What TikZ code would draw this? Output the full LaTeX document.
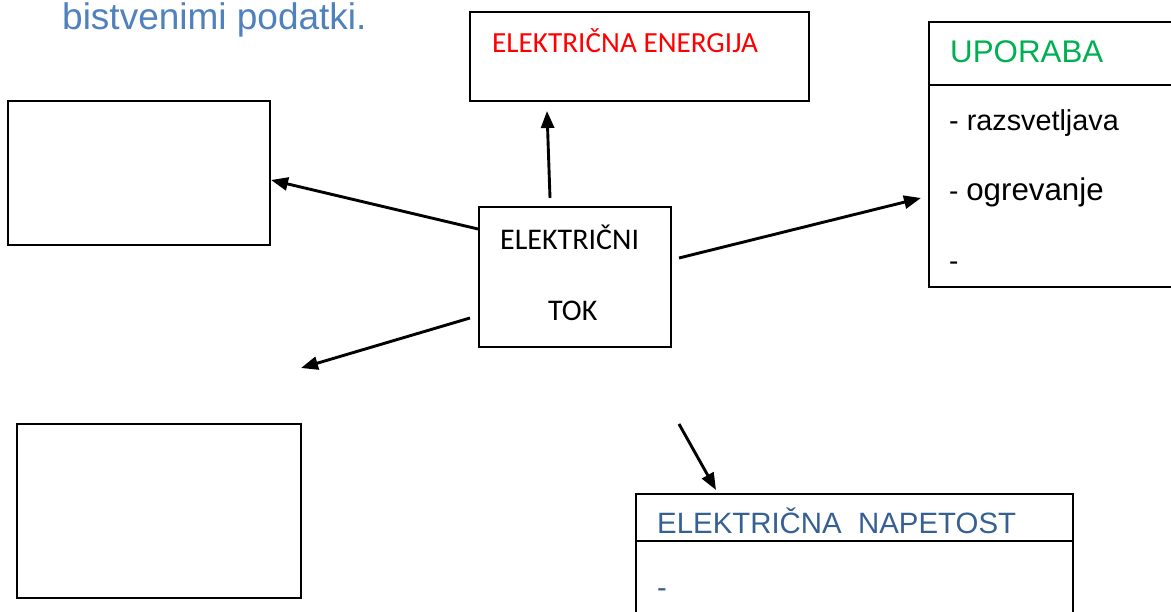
\documentclass[tikz,border=0pt]{standalone}
\usepackage{fontspec}
\setmainfont{Liberation Sans}
\newfontfamily\calib{Carlito}
\usetikzlibrary{arrows.meta}
\definecolor{titleblue}{RGB}{79,129,189}
\definecolor{napblue}{RGB}{54,96,146}
\definecolor{usegreen}{RGB}{0,176,80}
\definecolor{enred}{RGB}{255,0,0}
\tikzset{
  box/.style={draw=black, line width=2pt, inner sep=0pt, fill=none},
  txt/.style={inner sep=0pt, anchor=base west},
  conn/.style={line width=2.9pt, -{Triangle[length=17pt,width=13pt]}},
}
\begin{document}
\begin{tikzpicture}[x=1pt,y=-1pt]
\useasboundingbox (0,0) rectangle (1171,611);
\clip (0,0) rectangle (1171,611);
% boxes
\node[box, minimum width=262pt, minimum height=144pt] (tl) at (139,173) {};
\node[box, minimum width=339pt, minimum height=89pt] (en) at (639.5,56.5) {};
\node[box, minimum width=192pt, minimum height=140pt] (tok) at (575,277) {};
\node[box, minimum width=260pt, minimum height=265pt] (up) at (1059,154.5) {};
\draw[line width=2pt] (up.west |- 0,85) -- (up.east |- 0,85);
\node[box, minimum width=284pt, minimum height=174pt] (bl) at (159,511) {};
\node[box, minimum width=437pt, minimum height=140pt] (nap) at (854.5,564) {};
\draw[line width=2pt] (nap.west |- 0,541) -- (nap.east |- 0,541);
% texts
\node[txt, text=titleblue, font=\fontsize{37}{40}\selectfont] (title) at (62,29) {bistvenimi podatki.};
\node[txt, text=enred, font=\calib\fontsize{29.2}{34}\selectfont] (entxt) at (492,52) {ELEKTRIČNA ENERGIJA};
\node[txt, font=\calib\fontsize{30}{36}\selectfont] (tok1) at (500,249) {ELEKTRIČNI};
\node[txt, font=\calib\fontsize{30}{36}\selectfont] (tok2) at (548,320) {TOK};
\node[txt, text=usegreen, font=\fontsize{31.3}{36}\selectfont] (uptxt) at (950,62) {UPORABA};
\node[txt, font=\fontsize{28.8}{34}\selectfont] (up1) at (949,130) {- razsvetljava};
\node[txt] (up2) at (949,200) {\fontsize{28}{34}\selectfont - \fontsize{31.3}{36}\selectfont ogrevanje};
\node[txt, font=\fontsize{28}{34}\selectfont] (up3) at (949,270) {-};
\node[txt, text=napblue, font=\fontsize{29.4}{34}\selectfont] (naptxt) at (657,533) {ELEKTRIČNA~~NAPETOST};
\node[txt, text=napblue, font=\fontsize{29}{34}\selectfont] (nap1) at (657,597) {-};
% connector end points
\coordinate (a1s) at (550,198);
\coordinate (a1e) at (547,111);
\coordinate (a2s) at (478,229);
\coordinate (a2e) at (271,180);
\coordinate (a3s) at (470,318);
\coordinate (a3e) at (301,368);
\coordinate (a4s) at (679,258);
\coordinate (a4e) at (921,198);
\coordinate (a5s) at (679,424);
\coordinate (a5e) at (716,490);
\draw[conn] (a1s) -- (a1e);
\draw[conn] (a2s) -- (a2e);
\draw[conn] (a3s) -- (a3e);
\draw[conn] (a4s) -- (a4e);
\draw[conn] (a5s) -- (a5e);
\end{tikzpicture}
\end{document}
